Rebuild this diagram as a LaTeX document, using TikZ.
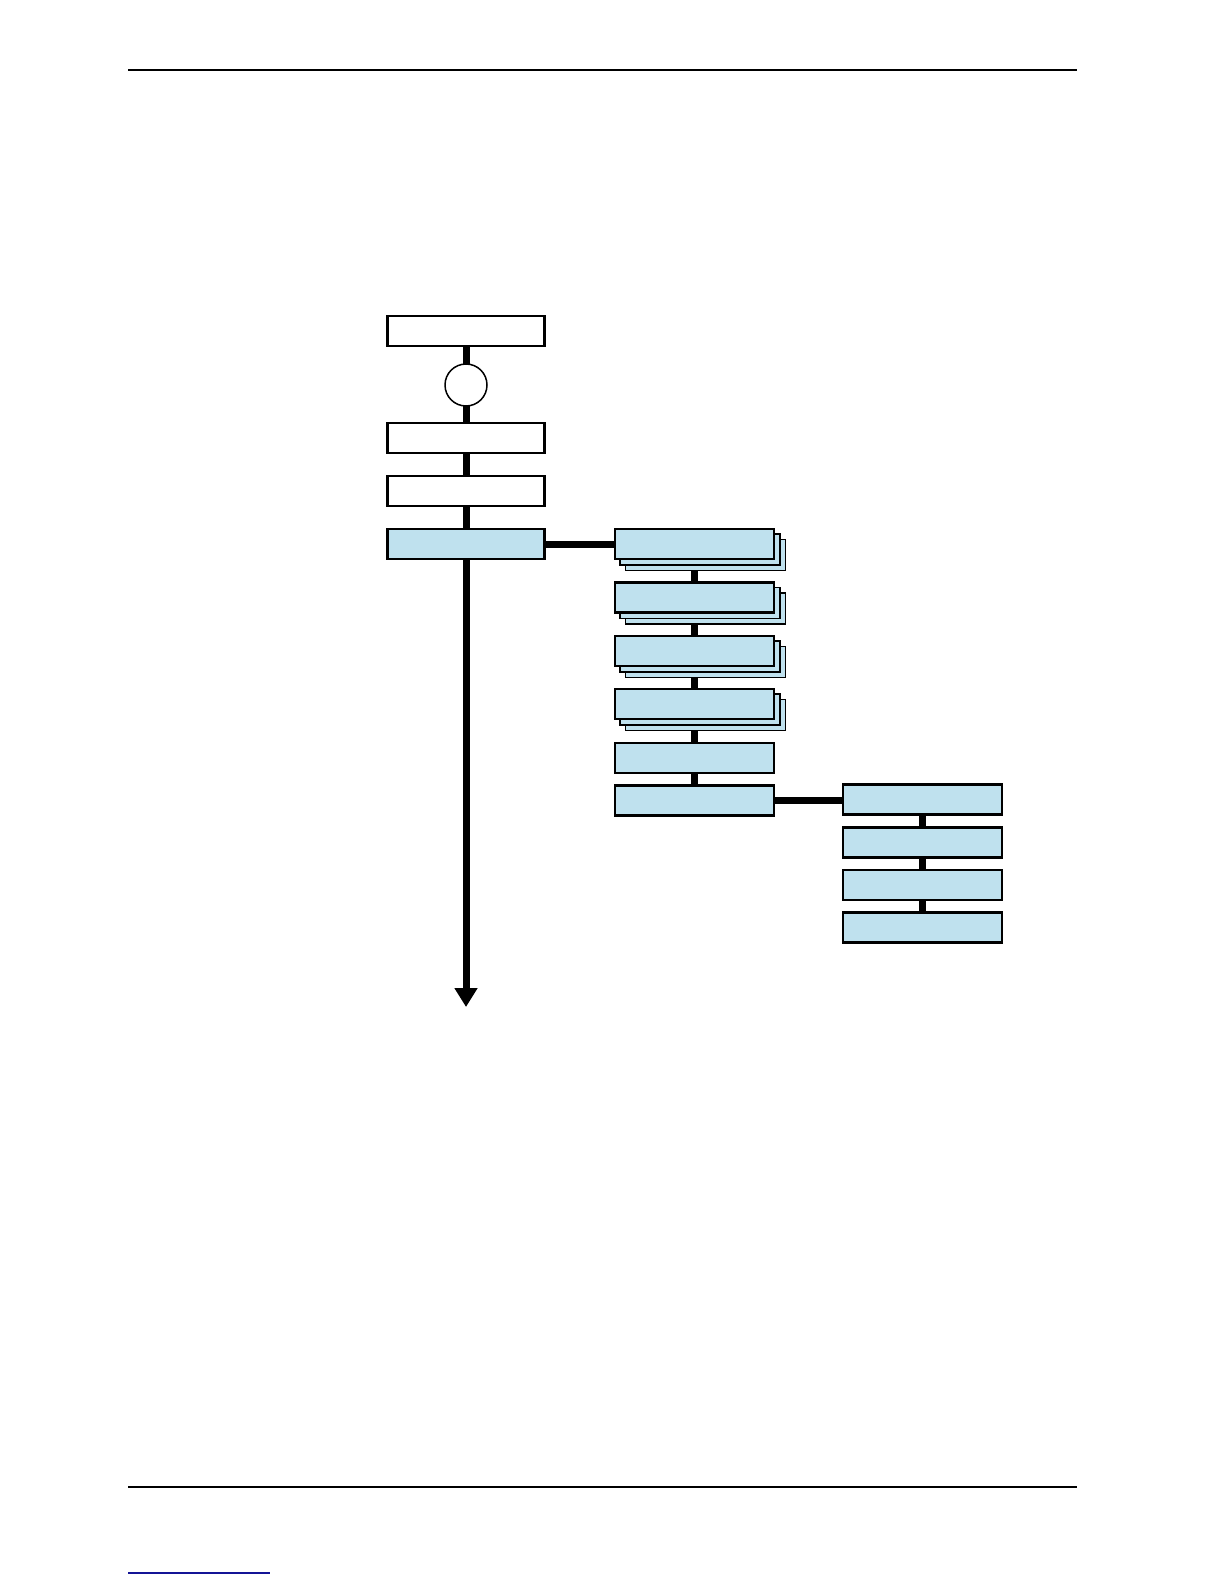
\documentclass[tikz,border=0pt]{standalone}
\usetikzlibrary{arrows.meta,backgrounds,calc}
\definecolor{boxblue}{RGB}{191,225,238}
\definecolor{linkblue}{RGB}{20,20,150}
\begin{document}
\begin{tikzpicture}[x=1pt,y=-1pt,
  box/.style={draw=black,line width=2.2pt,minimum height=30pt,inner sep=0pt,outer sep=0pt},
  wbox/.style={box,fill=white,minimum width=157pt},
  lbbox/.style={box,fill=boxblue,minimum width=157pt},
  bbox/.style={box,fill=boxblue,minimum width=159pt},
  sbox/.style={draw=black,line width=1.1pt,fill=boxblue,minimum width=160pt,minimum height=31pt,inner sep=0pt,outer sep=0pt},
  ring/.style={circle,draw=black,line width=1.5pt,fill=white,minimum size=42pt,inner sep=0pt,outer sep=0pt},
  conn/.style={line width=7pt},
  rule/.style={line width=1.3pt}]
\useasboundingbox (0,0) rectangle (1224,1584);

% page rules
\coordinate (hl) at (128,70);  \coordinate (hr) at (1077,70);
\coordinate (fl) at (128,1487); \coordinate (fr) at (1077,1487);
\coordinate (ll) at (128,1573); \coordinate (lr) at (270,1573);
\draw[rule] (hl) -- (hr);
\draw[rule] (fl) -- (fr);
\draw[linkblue,line width=1.2pt] (ll) -- (lr);

% left column
\node[wbox] (L1) at (466,331) {};
\node[ring] (C) at (466,385) {};
\node[wbox] (L2) at (466,438) {};
\node[wbox] (L3) at (466,491) {};
\node[lbbox] (L4) at (466,544) {};
\coordinate (end) at (466,1007);

% middle column (stacked boxes with two shadow copies)
\foreach \n/\y in {A/544,B/597.5,C2/651,D/704}{
  \node[sbox] (\n s2) at (705.5,\y+11) {};
  \node[sbox] (\n s1) at (700,\y+5.5) {};
}
\node[bbox] (A) at (694.5,544) {};
\node[bbox] (B) at (694.5,597.5) {};
\node[bbox] (C2) at (694.5,651) {};
\node[bbox] (D) at (694.5,704) {};
\node[bbox] (E) at (694.5,758) {};
\node[bbox] (F) at (694.5,800.5) {};

% right column
\node[bbox] (G) at (922.5,799.5) {};
\node[bbox] (H) at (922.5,842.5) {};
\node[bbox] (I) at (922.5,885) {};
\node[bbox] (J) at (922.5,927.5) {};

\begin{pgfonlayer}{background}
  \draw[conn] (L1.south) -- (C.north);
  \draw[conn] (C.south) -- (L2.north);
  \draw[conn] (L2.south) -- (L3.north);
  \draw[conn] (L3.south) -- (L4.north);
  \draw[conn] (L4.east) -- (A.west);
  \draw[conn] (A.south) -- (B.north);
  \draw[conn] (B.south) -- (C2.north);
  \draw[conn] (C2.south) -- (D.north);
  \draw[conn] (D.south) -- (E.north);
  \draw[conn] (E.south) -- (F.north);
  \draw[conn] (F.east) -- (F.east -| G.west);
  \draw[conn] (G.south) -- (H.north);
  \draw[conn] (H.south) -- (I.north);
  \draw[conn] (I.south) -- (J.north);
\end{pgfonlayer}
\draw[conn,-{Triangle[width=22pt,length=19pt]}] (L4.south) -- (end);
\end{tikzpicture}
\end{document}
